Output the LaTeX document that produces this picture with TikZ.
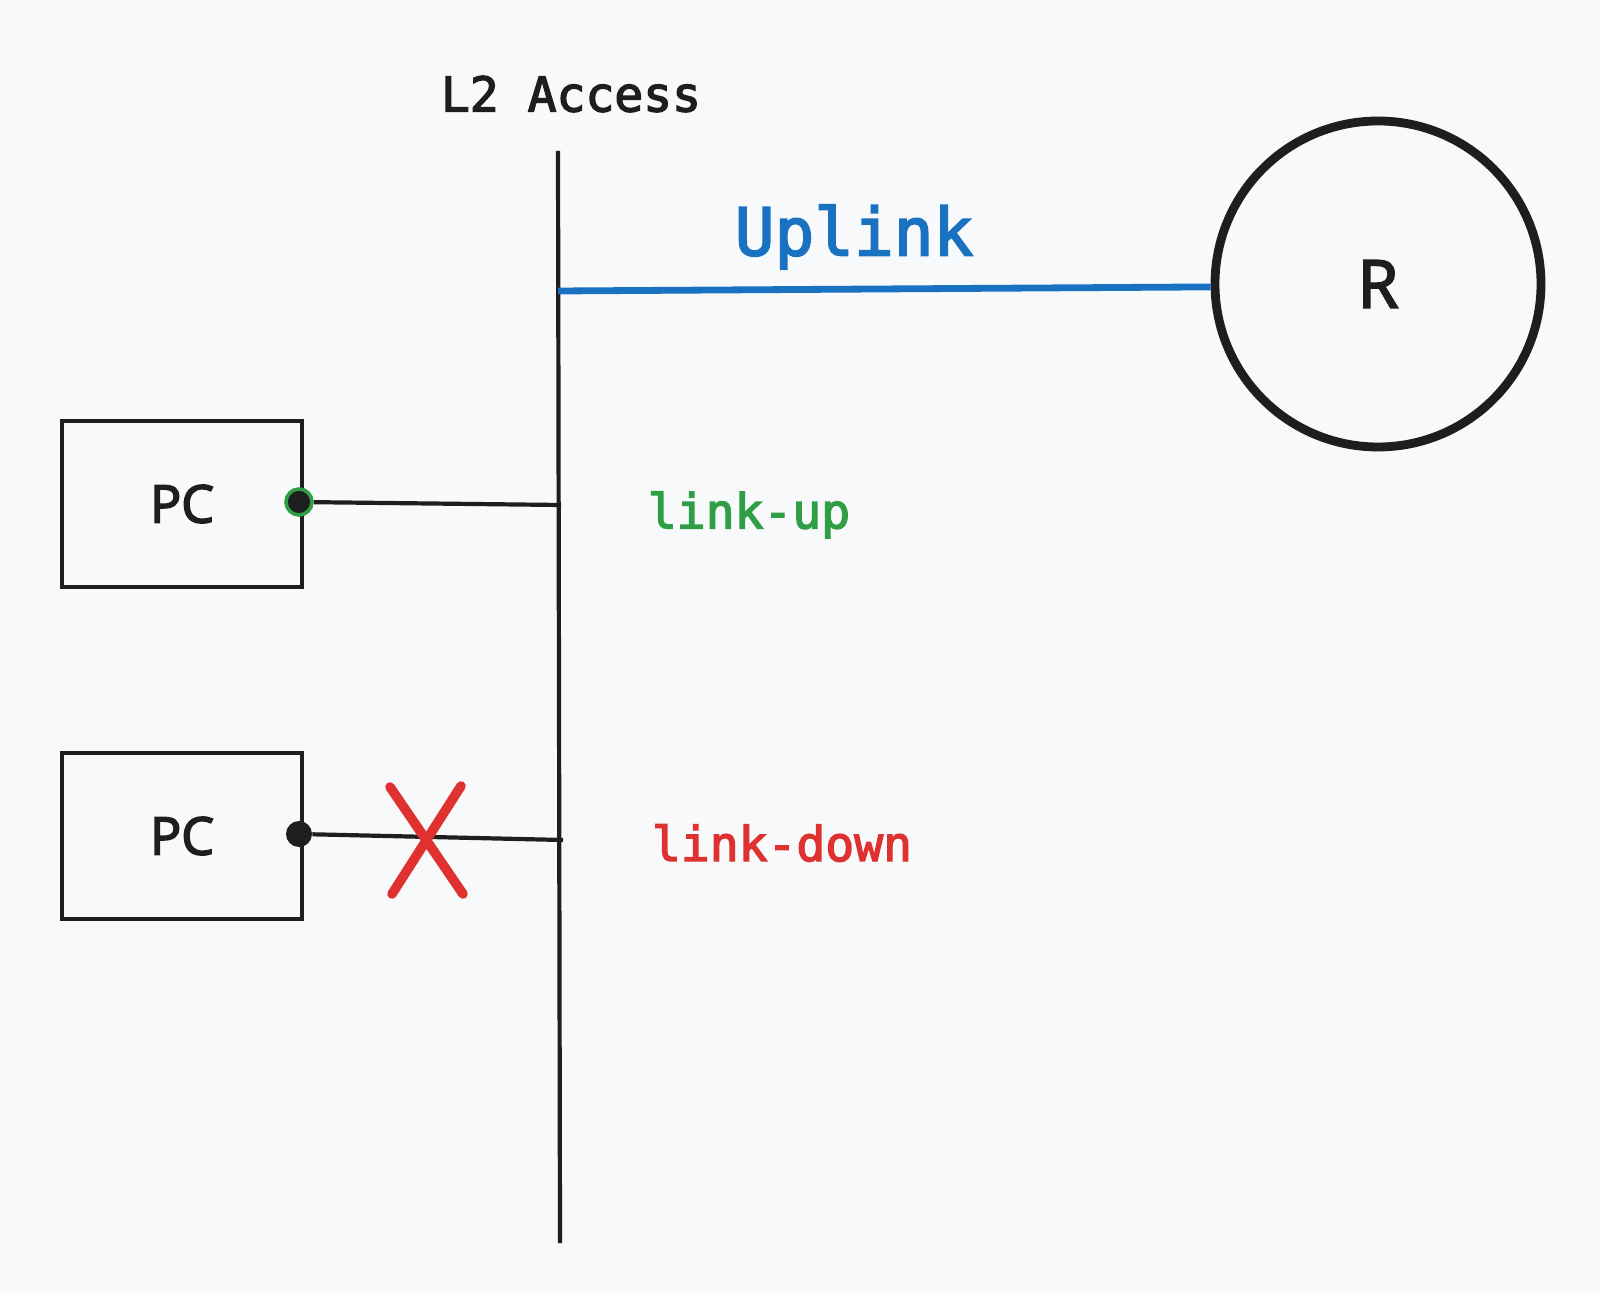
\documentclass[tikz,border=0pt]{standalone}
\usepackage{fontspec}
\setmainfont{Open Sans}
\newfontfamily\pcfont{Open Sans}
\newfontfamily\monofont{DejaVu Sans Mono}
\newcommand\heavytext[2]{\special{pdf:literal direct 2 Tr #1 w}#2\special{pdf:literal direct 0 Tr}}
\definecolor{bg}{HTML}{F8F9FA}
\definecolor{ink}{HTML}{1E1E1E}
\definecolor{upblue}{HTML}{1971C2}
\definecolor{okgreen}{HTML}{2F9E44}
\definecolor{badred}{HTML}{E03131}
\tikzset{
  px/.style={x=0.5pt,y=-0.5pt},
  pcbox/.style={draw=ink,line width=2.3pt,minimum width=120pt,minimum height=83pt,inner sep=0pt,font=\pcfont\fontsize{26}{30}\selectfont,text=ink},
  wire/.style={draw=ink,line width=2.1pt},
  mono/.style={font=\monofont\fontsize{24}{28}\selectfont},
  port/.style={circle,fill=ink,minimum size=13pt,inner sep=0pt},
}
\begin{document}
\begin{tikzpicture}[px]
\fill[bg] (0,0) rectangle (1600,1293);
\useasboundingbox (0,0) rectangle (1600,1293);
% bus
\coordinate (bustop) at (558,151);
\coordinate (busbot) at (560,1243);
\draw[wire] (bustop) -- (busbot);
\node[mono,text=ink] (l2) at (571,94) {\heavytext{0.7}{L2 Access}};
% router
\node[circle,draw=ink,line width=4.4pt,minimum size=163pt,inner sep=0pt,font=\pcfont\fontsize{33}{36}\selectfont,text=ink] (R) at (1378,284) {\heavytext{1.0}{R}};
\coordinate (upleft) at (558,291);
\draw[draw=upblue,line width=3.4pt] (upleft) -- (R.181.5);
\node[text=upblue,font=\monofont\fontsize{33}{36}\selectfont] (uplink) at (854,237) {\heavytext{0.9}{Uplink}};
% PCs
\node[pcbox] (pc1) at (182,504) {\heavytext{0.8}{PC}};
\node[pcbox] (pc2) at (182,836) {\heavytext{0.8}{PC}};
\node[port,draw=okgreen,line width=1.8pt] (p1) at (299,502) {};
\node[port] (p2) at (299,834) {};
\coordinate (b1) at (561,505);
\coordinate (b2) at (563,840);
\draw[wire] (p1) -- (b1);
\draw[wire] (p2) -- (b2);
\node[mono,text=okgreen] (lu) at (749,515) {\heavytext{0.7}{link-up}};
\node[mono,text=badred] (ld) at (782,843) {\heavytext{0.7}{link-down}};
% cross
\coordinate (x1) at (390,787);
\coordinate (x2) at (463,894);
\coordinate (x3) at (461,786);
\coordinate (x4) at (392,894);
\draw[badred,line width=4.8pt,line cap=round] (x1) -- (x2) (x3) -- (x4);
\end{tikzpicture}
\end{document}
